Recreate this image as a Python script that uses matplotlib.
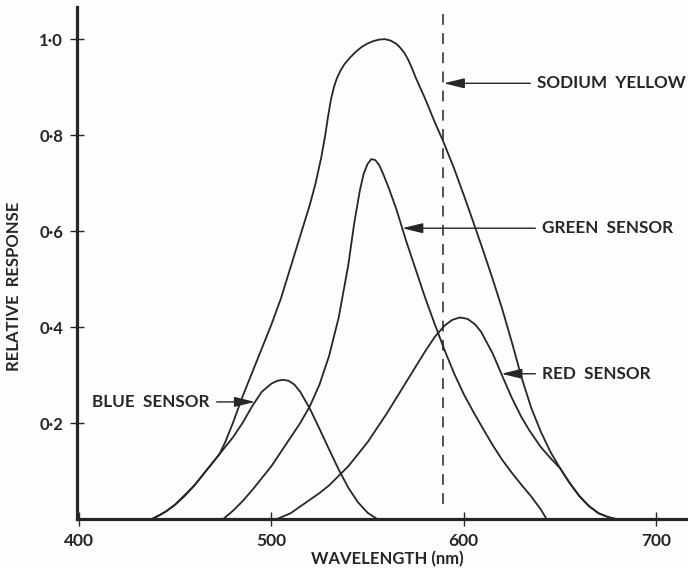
import numpy as np
import matplotlib
matplotlib.use("Agg")
import matplotlib.pyplot as plt

# Spectral response of the eye's sensors (relative units)
total_nm = [438, 442, 446, 450, 455, 460, 465, 470, 473, 476, 480, 485, 490, 495,
            500, 505, 510, 515, 520, 523, 526, 528, 529.5, 531, 532.5, 534, 536, 538,
            541, 544, 547, 550, 553, 556, 559, 562, 565, 567, 569, 571, 573, 575,
            580, 585, 589, 595, 600, 605, 610, 615, 620, 625, 630, 635, 640, 645,
            650, 655, 660, 665, 670, 675, 679]
total_val = [0.0, 0.008, 0.018, 0.03, 0.048, 0.07, 0.095, 0.12, 0.135, 0.16, 0.2, 0.255, 0.305, 0.355,
             0.405, 0.46, 0.525, 0.59, 0.655, 0.7, 0.755, 0.8, 0.84, 0.875, 0.9, 0.918, 0.935, 0.948,
             0.962, 0.974, 0.984, 0.991, 0.996, 0.999, 1.0, 0.997, 0.99, 0.982, 0.972, 0.958, 0.94, 0.92,
             0.875, 0.826, 0.79, 0.73, 0.675, 0.618, 0.56, 0.5, 0.437, 0.368, 0.295, 0.232, 0.182, 0.14,
             0.106, 0.075, 0.048, 0.027, 0.012, 0.004, 0.0]

blue_nm = [438, 445, 450, 455, 460, 465, 470, 475, 480, 485, 490, 495, 500, 503,
           506, 509, 512, 515, 520, 525, 530, 535, 540, 545, 550, 555]
blue_val = [0.0, 0.015, 0.03, 0.05, 0.07, 0.095, 0.12, 0.145, 0.17, 0.2, 0.235, 0.265, 0.282, 0.288,
            0.29, 0.288, 0.28, 0.265, 0.23, 0.188, 0.145, 0.103, 0.065, 0.035, 0.013, 0.0]

green_nm = [475, 480, 485, 490, 495, 500, 505, 510, 515, 520, 525, 530, 535, 540,
            543, 546, 548, 550, 552, 554, 556, 558, 561, 565, 570, 575, 580, 585,
            590, 595, 600, 605, 610, 615, 620, 625, 630, 635, 640, 643]
green_val = [0.0, 0.017, 0.037, 0.06, 0.085, 0.11, 0.14, 0.17, 0.2, 0.235, 0.28, 0.34, 0.42, 0.53,
             0.615, 0.685, 0.72, 0.74, 0.75, 0.748, 0.738, 0.72, 0.69, 0.645, 0.58, 0.52, 0.46, 0.405,
             0.352, 0.303, 0.26, 0.223, 0.188, 0.154, 0.123, 0.096, 0.071, 0.047, 0.02, 0.0]

red_nm = [503, 510, 520, 525, 530, 540, 550, 560, 570, 580, 585, 590, 594, 598,
          602, 606, 609, 615, 620, 625, 630, 634, 640, 645, 650, 655, 660, 665,
          670, 675, 679]
red_val = [0.0, 0.012, 0.04, 0.054, 0.07, 0.11, 0.16, 0.22, 0.285, 0.35, 0.38, 0.403, 0.415, 0.42,
           0.417, 0.405, 0.39, 0.345, 0.298, 0.252, 0.212, 0.185, 0.15, 0.127, 0.106, 0.075, 0.048, 0.027,
           0.012, 0.004, 0.0]

sodium_nm = 589

x_ticks = [400, 500, 600, 700]
y_ticks = [0.2, 0.4, 0.6, 0.8, 1.0]
y_tick_labels = ["0\u00b72", "0\u00b74", "0\u00b76", "0\u00b78", "1\u00b70"]

ink = "#242824"
paper = "#fdfdfb"

plt.rcParams["font.family"] = ["Lato", "DejaVu Sans"]
plt.rcParams["font.weight"] = "bold"
plt.rcParams["axes.labelweight"] = "bold"

fig = plt.figure(figsize=(6.88, 5.68), dpi=100, facecolor=paper)
ax = fig.add_axes([77 / 688, 49 / 568, 611 / 688, 512 / 568], facecolor=paper)

for nm, val in [(total_nm, total_val), (blue_nm, blue_val),
                (green_nm, green_val), (red_nm, red_val)]:
    ax.plot(nm, val, color=ink, lw=1.3, solid_joinstyle="round", zorder=3)

ax.axvline(sodium_nm, ymin=0.03, ymax=0.995, color="#33372f", lw=1.2,
           dashes=(6.5, 5), zorder=2)

ax.set_xlim(399, 716.5)
ax.set_ylim(0, 1.067)

for side in ("top", "right"):
    ax.spines[side].set_visible(False)
for side in ("left", "bottom"):
    ax.spines[side].set_linewidth(2.3)
    ax.spines[side].set_color(ink)

ax.set_xticks(x_ticks)
ax.set_xticklabels([str(t) for t in x_ticks])
ax.set_yticks(y_ticks)
ax.set_yticklabels(y_tick_labels)
ax.tick_params(axis="both", direction="inout", color=ink, width=1.0,
               labelcolor=ink)
ax.tick_params(axis="x", length=10, pad=5, labelsize=12.5)
ax.tick_params(axis="y", length=10, pad=5, labelsize=12)

ax.set_xlabel("WAVELENGTH (nm)", fontsize=12, color=ink)
ax.xaxis.set_label_coords(0.508, -0.062)
ax.set_ylabel("RELATIVE  RESPONSE", fontsize=12, color=ink)
ax.yaxis.set_label_coords(-0.09, 0.455)

arrow = dict(arrowstyle="-|>,head_length=0.9,head_width=0.22", color=ink,
             lw=1.0, shrinkA=3, shrinkB=0, mutation_scale=14)
label_kw = dict(fontsize=12.3, color=ink, va="center")

ax.annotate("SODIUM  YELLOW", xy=(sodium_nm + 0.6, 0.908), xytext=(638.2, 0.908),
            ha="left", arrowprops=arrow, **label_kw)

g_x = 568
ax.annotate("GREEN  SENSOR", xy=(g_x, np.interp(g_x, green_nm, green_val)),
            xytext=(640.8, np.interp(g_x, green_nm, green_val)),
            ha="left", arrowprops=arrow, **label_kw)

r_x = 619.5
ax.annotate("RED  SENSOR", xy=(r_x, np.interp(r_x, red_nm, red_val)),
            xytext=(640.8, np.interp(r_x, red_nm, red_val)),
            ha="left", arrowprops=arrow, **label_kw)

b_x = 491.5
ax.annotate("BLUE  SENSOR", xy=(b_x, np.interp(b_x, blue_nm, blue_val)),
            xytext=(468, np.interp(b_x, blue_nm, blue_val)),
            ha="right", arrowprops=arrow, **label_kw)

fig.savefig("out.png", dpi=100, facecolor=paper)
